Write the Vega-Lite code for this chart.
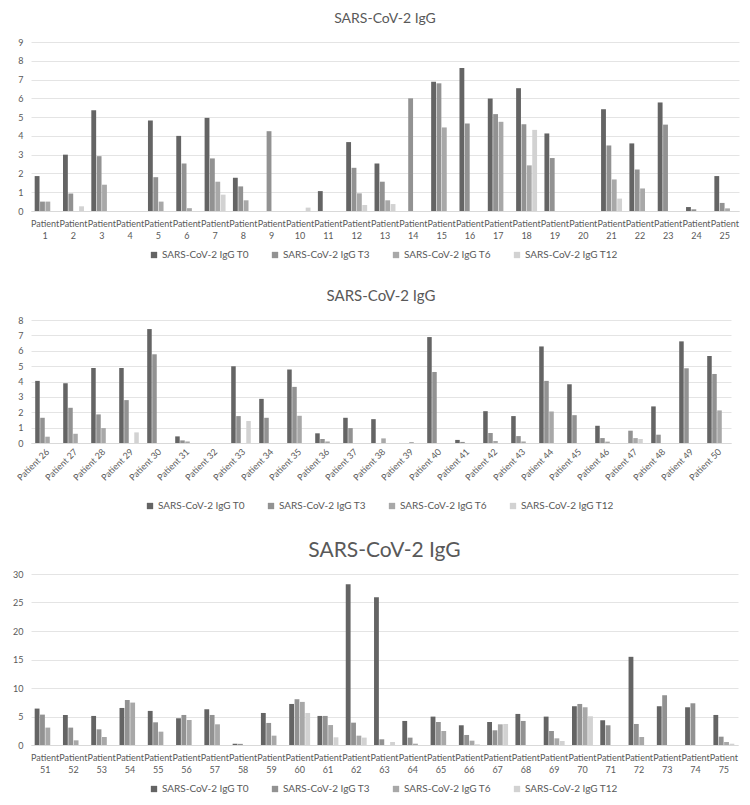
{
  "$schema": "https://vega.github.io/schema/vega-lite/v6.json",
  "background": "white",
  "padding": {"top": 12, "left": 12, "right": 8, "bottom": 2},
  "datasets": {
    "igg": [
      {"g":1,"p":"Patient 1","s":"SARS-CoV-2  IgG T0","v":1.86},
      {"g":1,"p":"Patient 1","s":"SARS-CoV-2  IgG T3","v":0.5},
      {"g":1,"p":"Patient 1","s":"SARS-CoV-2  IgG T6","v":0.5},
      {"g":1,"p":"Patient 2","s":"SARS-CoV-2  IgG T0","v":3.0},
      {"g":1,"p":"Patient 2","s":"SARS-CoV-2  IgG T3","v":0.93},
      {"g":1,"p":"Patient 2","s":"SARS-CoV-2  IgG T12","v":0.25},
      {"g":1,"p":"Patient 3","s":"SARS-CoV-2  IgG T0","v":5.37},
      {"g":1,"p":"Patient 3","s":"SARS-CoV-2  IgG T3","v":2.92},
      {"g":1,"p":"Patient 3","s":"SARS-CoV-2  IgG T6","v":1.4},
      {"g":1,"p":"Patient 4","s":"SARS-CoV-2  IgG T0","v":0},
      {"g":1,"p":"Patient 5","s":"SARS-CoV-2  IgG T0","v":4.82},
      {"g":1,"p":"Patient 5","s":"SARS-CoV-2  IgG T3","v":1.8},
      {"g":1,"p":"Patient 5","s":"SARS-CoV-2  IgG T6","v":0.5},
      {"g":1,"p":"Patient 6","s":"SARS-CoV-2  IgG T0","v":4.0},
      {"g":1,"p":"Patient 6","s":"SARS-CoV-2  IgG T3","v":2.53},
      {"g":1,"p":"Patient 6","s":"SARS-CoV-2  IgG T6","v":0.15},
      {"g":1,"p":"Patient 7","s":"SARS-CoV-2  IgG T0","v":4.96},
      {"g":1,"p":"Patient 7","s":"SARS-CoV-2  IgG T3","v":2.8},
      {"g":1,"p":"Patient 7","s":"SARS-CoV-2  IgG T6","v":1.56},
      {"g":1,"p":"Patient 7","s":"SARS-CoV-2  IgG T12","v":0.87},
      {"g":1,"p":"Patient 8","s":"SARS-CoV-2  IgG T0","v":1.77},
      {"g":1,"p":"Patient 8","s":"SARS-CoV-2  IgG T3","v":1.31},
      {"g":1,"p":"Patient 8","s":"SARS-CoV-2  IgG T6","v":0.57},
      {"g":1,"p":"Patient 9","s":"SARS-CoV-2  IgG T3","v":4.25},
      {"g":1,"p":"Patient 10","s":"SARS-CoV-2  IgG T12","v":0.18},
      {"g":1,"p":"Patient 11","s":"SARS-CoV-2  IgG T0","v":1.06},
      {"g":1,"p":"Patient 12","s":"SARS-CoV-2  IgG T0","v":3.67},
      {"g":1,"p":"Patient 12","s":"SARS-CoV-2  IgG T3","v":2.3},
      {"g":1,"p":"Patient 12","s":"SARS-CoV-2  IgG T6","v":0.94},
      {"g":1,"p":"Patient 12","s":"SARS-CoV-2  IgG T12","v":0.32},
      {"g":1,"p":"Patient 13","s":"SARS-CoV-2  IgG T0","v":2.53},
      {"g":1,"p":"Patient 13","s":"SARS-CoV-2  IgG T3","v":1.56},
      {"g":1,"p":"Patient 13","s":"SARS-CoV-2  IgG T6","v":0.57},
      {"g":1,"p":"Patient 13","s":"SARS-CoV-2  IgG T12","v":0.37},
      {"g":1,"p":"Patient 14","s":"SARS-CoV-2  IgG T3","v":6.0},
      {"g":1,"p":"Patient 15","s":"SARS-CoV-2  IgG T0","v":6.88},
      {"g":1,"p":"Patient 15","s":"SARS-CoV-2  IgG T3","v":6.8},
      {"g":1,"p":"Patient 15","s":"SARS-CoV-2  IgG T6","v":4.45},
      {"g":1,"p":"Patient 16","s":"SARS-CoV-2  IgG T0","v":7.62},
      {"g":1,"p":"Patient 16","s":"SARS-CoV-2  IgG T3","v":4.66},
      {"g":1,"p":"Patient 17","s":"SARS-CoV-2  IgG T0","v":5.99},
      {"g":1,"p":"Patient 17","s":"SARS-CoV-2  IgG T3","v":5.16},
      {"g":1,"p":"Patient 17","s":"SARS-CoV-2  IgG T6","v":4.75},
      {"g":1,"p":"Patient 18","s":"SARS-CoV-2  IgG T0","v":6.54},
      {"g":1,"p":"Patient 18","s":"SARS-CoV-2  IgG T3","v":4.62},
      {"g":1,"p":"Patient 18","s":"SARS-CoV-2  IgG T6","v":2.43},
      {"g":1,"p":"Patient 18","s":"SARS-CoV-2  IgG T12","v":4.32},
      {"g":1,"p":"Patient 19","s":"SARS-CoV-2  IgG T0","v":4.13},
      {"g":1,"p":"Patient 19","s":"SARS-CoV-2  IgG T3","v":2.82},
      {"g":1,"p":"Patient 20","s":"SARS-CoV-2  IgG T0","v":0},
      {"g":1,"p":"Patient 21","s":"SARS-CoV-2  IgG T0","v":5.42},
      {"g":1,"p":"Patient 21","s":"SARS-CoV-2  IgG T3","v":3.49},
      {"g":1,"p":"Patient 21","s":"SARS-CoV-2  IgG T6","v":1.68},
      {"g":1,"p":"Patient 21","s":"SARS-CoV-2  IgG T12","v":0.66},
      {"g":1,"p":"Patient 22","s":"SARS-CoV-2  IgG T0","v":3.6},
      {"g":1,"p":"Patient 22","s":"SARS-CoV-2  IgG T3","v":2.21},
      {"g":1,"p":"Patient 22","s":"SARS-CoV-2  IgG T6","v":1.2},
      {"g":1,"p":"Patient 23","s":"SARS-CoV-2  IgG T0","v":5.78},
      {"g":1,"p":"Patient 23","s":"SARS-CoV-2  IgG T3","v":4.6},
      {"g":1,"p":"Patient 24","s":"SARS-CoV-2  IgG T0","v":0.21},
      {"g":1,"p":"Patient 24","s":"SARS-CoV-2  IgG T3","v":0.09},
      {"g":1,"p":"Patient 25","s":"SARS-CoV-2  IgG T0","v":1.86},
      {"g":1,"p":"Patient 25","s":"SARS-CoV-2  IgG T3","v":0.43},
      {"g":1,"p":"Patient 25","s":"SARS-CoV-2  IgG T6","v":0.14},

      {"g":2,"p":"Patient 26","s":"SARS-CoV-2  IgG T0","v":4.04},
      {"g":2,"p":"Patient 26","s":"SARS-CoV-2  IgG T3","v":1.64},
      {"g":2,"p":"Patient 26","s":"SARS-CoV-2  IgG T6","v":0.41},
      {"g":2,"p":"Patient 27","s":"SARS-CoV-2  IgG T0","v":3.89},
      {"g":2,"p":"Patient 27","s":"SARS-CoV-2  IgG T3","v":2.29},
      {"g":2,"p":"Patient 27","s":"SARS-CoV-2  IgG T6","v":0.6},
      {"g":2,"p":"Patient 28","s":"SARS-CoV-2  IgG T0","v":4.88},
      {"g":2,"p":"Patient 28","s":"SARS-CoV-2  IgG T3","v":1.86},
      {"g":2,"p":"Patient 28","s":"SARS-CoV-2  IgG T6","v":0.97},
      {"g":2,"p":"Patient 29","s":"SARS-CoV-2  IgG T0","v":4.88},
      {"g":2,"p":"Patient 29","s":"SARS-CoV-2  IgG T3","v":2.79},
      {"g":2,"p":"Patient 29","s":"SARS-CoV-2  IgG T12","v":0.69},
      {"g":2,"p":"Patient 30","s":"SARS-CoV-2  IgG T0","v":7.41},
      {"g":2,"p":"Patient 30","s":"SARS-CoV-2  IgG T3","v":5.77},
      {"g":2,"p":"Patient 31","s":"SARS-CoV-2  IgG T0","v":0.43},
      {"g":2,"p":"Patient 31","s":"SARS-CoV-2  IgG T3","v":0.17},
      {"g":2,"p":"Patient 31","s":"SARS-CoV-2  IgG T6","v":0.1},
      {"g":2,"p":"Patient 32","s":"SARS-CoV-2  IgG T0","v":0},
      {"g":2,"p":"Patient 33","s":"SARS-CoV-2  IgG T0","v":4.99},
      {"g":2,"p":"Patient 33","s":"SARS-CoV-2  IgG T3","v":1.75},
      {"g":2,"p":"Patient 33","s":"SARS-CoV-2  IgG T12","v":1.43},
      {"g":2,"p":"Patient 34","s":"SARS-CoV-2  IgG T0","v":2.87},
      {"g":2,"p":"Patient 34","s":"SARS-CoV-2  IgG T3","v":1.64},
      {"g":2,"p":"Patient 35","s":"SARS-CoV-2  IgG T0","v":4.78},
      {"g":2,"p":"Patient 35","s":"SARS-CoV-2  IgG T3","v":3.65},
      {"g":2,"p":"Patient 35","s":"SARS-CoV-2  IgG T6","v":1.77},
      {"g":2,"p":"Patient 36","s":"SARS-CoV-2  IgG T0","v":0.63},
      {"g":2,"p":"Patient 36","s":"SARS-CoV-2  IgG T3","v":0.26},
      {"g":2,"p":"Patient 36","s":"SARS-CoV-2  IgG T6","v":0.1},
      {"g":2,"p":"Patient 37","s":"SARS-CoV-2  IgG T0","v":1.64},
      {"g":2,"p":"Patient 37","s":"SARS-CoV-2  IgG T3","v":0.97},
      {"g":2,"p":"Patient 38","s":"SARS-CoV-2  IgG T0","v":1.55},
      {"g":2,"p":"Patient 38","s":"SARS-CoV-2  IgG T6","v":0.3},
      {"g":2,"p":"Patient 39","s":"SARS-CoV-2  IgG T6","v":0.06},
      {"g":2,"p":"Patient 40","s":"SARS-CoV-2  IgG T0","v":6.89},
      {"g":2,"p":"Patient 40","s":"SARS-CoV-2  IgG T3","v":4.62},
      {"g":2,"p":"Patient 41","s":"SARS-CoV-2  IgG T0","v":0.2},
      {"g":2,"p":"Patient 41","s":"SARS-CoV-2  IgG T3","v":0.07},
      {"g":2,"p":"Patient 42","s":"SARS-CoV-2  IgG T0","v":2.07},
      {"g":2,"p":"Patient 42","s":"SARS-CoV-2  IgG T3","v":0.65},
      {"g":2,"p":"Patient 42","s":"SARS-CoV-2  IgG T6","v":0.13},
      {"g":2,"p":"Patient 43","s":"SARS-CoV-2  IgG T0","v":1.75},
      {"g":2,"p":"Patient 43","s":"SARS-CoV-2  IgG T3","v":0.45},
      {"g":2,"p":"Patient 43","s":"SARS-CoV-2  IgG T6","v":0.1},
      {"g":2,"p":"Patient 44","s":"SARS-CoV-2  IgG T0","v":6.28},
      {"g":2,"p":"Patient 44","s":"SARS-CoV-2  IgG T3","v":4.04},
      {"g":2,"p":"Patient 44","s":"SARS-CoV-2  IgG T6","v":2.05},
      {"g":2,"p":"Patient 45","s":"SARS-CoV-2  IgG T0","v":3.82},
      {"g":2,"p":"Patient 45","s":"SARS-CoV-2  IgG T3","v":1.81},
      {"g":2,"p":"Patient 46","s":"SARS-CoV-2  IgG T0","v":1.12},
      {"g":2,"p":"Patient 46","s":"SARS-CoV-2  IgG T3","v":0.32},
      {"g":2,"p":"Patient 46","s":"SARS-CoV-2  IgG T6","v":0.09},
      {"g":2,"p":"Patient 47","s":"SARS-CoV-2  IgG T3","v":0.8},
      {"g":2,"p":"Patient 47","s":"SARS-CoV-2  IgG T6","v":0.32},
      {"g":2,"p":"Patient 47","s":"SARS-CoV-2  IgG T12","v":0.26},
      {"g":2,"p":"Patient 48","s":"SARS-CoV-2  IgG T0","v":2.38},
      {"g":2,"p":"Patient 48","s":"SARS-CoV-2  IgG T3","v":0.54},
      {"g":2,"p":"Patient 49","s":"SARS-CoV-2  IgG T0","v":6.61},
      {"g":2,"p":"Patient 49","s":"SARS-CoV-2  IgG T3","v":4.86},
      {"g":2,"p":"Patient 50","s":"SARS-CoV-2  IgG T0","v":5.66},
      {"g":2,"p":"Patient 50","s":"SARS-CoV-2  IgG T3","v":4.49},
      {"g":2,"p":"Patient 50","s":"SARS-CoV-2  IgG T6","v":2.12},

      {"g":3,"p":"Patient 51","s":"SARS-CoV-2  IgG T0","v":6.39},
      {"g":3,"p":"Patient 51","s":"SARS-CoV-2  IgG T3","v":5.33},
      {"g":3,"p":"Patient 51","s":"SARS-CoV-2  IgG T6","v":3.05},
      {"g":3,"p":"Patient 52","s":"SARS-CoV-2  IgG T0","v":5.27},
      {"g":3,"p":"Patient 52","s":"SARS-CoV-2  IgG T3","v":3.05},
      {"g":3,"p":"Patient 52","s":"SARS-CoV-2  IgG T6","v":0.82},
      {"g":3,"p":"Patient 53","s":"SARS-CoV-2  IgG T0","v":5.1},
      {"g":3,"p":"Patient 53","s":"SARS-CoV-2  IgG T3","v":2.75},
      {"g":3,"p":"Patient 53","s":"SARS-CoV-2  IgG T6","v":1.4},
      {"g":3,"p":"Patient 54","s":"SARS-CoV-2  IgG T0","v":6.5},
      {"g":3,"p":"Patient 54","s":"SARS-CoV-2  IgG T3","v":7.9},
      {"g":3,"p":"Patient 54","s":"SARS-CoV-2  IgG T6","v":7.44},
      {"g":3,"p":"Patient 55","s":"SARS-CoV-2  IgG T0","v":5.98},
      {"g":3,"p":"Patient 55","s":"SARS-CoV-2  IgG T3","v":3.98},
      {"g":3,"p":"Patient 55","s":"SARS-CoV-2  IgG T6","v":2.34},
      {"g":3,"p":"Patient 56","s":"SARS-CoV-2  IgG T0","v":4.69},
      {"g":3,"p":"Patient 56","s":"SARS-CoV-2  IgG T3","v":5.27},
      {"g":3,"p":"Patient 56","s":"SARS-CoV-2  IgG T6","v":4.39},
      {"g":3,"p":"Patient 57","s":"SARS-CoV-2  IgG T0","v":6.27},
      {"g":3,"p":"Patient 57","s":"SARS-CoV-2  IgG T3","v":5.27},
      {"g":3,"p":"Patient 57","s":"SARS-CoV-2  IgG T6","v":3.63},
      {"g":3,"p":"Patient 58","s":"SARS-CoV-2  IgG T0","v":0.22},
      {"g":3,"p":"Patient 58","s":"SARS-CoV-2  IgG T3","v":0.2},
      {"g":3,"p":"Patient 59","s":"SARS-CoV-2  IgG T0","v":5.62},
      {"g":3,"p":"Patient 59","s":"SARS-CoV-2  IgG T3","v":3.87},
      {"g":3,"p":"Patient 59","s":"SARS-CoV-2  IgG T6","v":1.64},
      {"g":3,"p":"Patient 60","s":"SARS-CoV-2  IgG T0","v":7.2},
      {"g":3,"p":"Patient 60","s":"SARS-CoV-2  IgG T3","v":8.03},
      {"g":3,"p":"Patient 60","s":"SARS-CoV-2  IgG T6","v":7.56},
      {"g":3,"p":"Patient 60","s":"SARS-CoV-2  IgG T12","v":5.62},
      {"g":3,"p":"Patient 61","s":"SARS-CoV-2  IgG T0","v":5.1},
      {"g":3,"p":"Patient 61","s":"SARS-CoV-2  IgG T3","v":5.1},
      {"g":3,"p":"Patient 61","s":"SARS-CoV-2  IgG T6","v":3.5},
      {"g":3,"p":"Patient 61","s":"SARS-CoV-2  IgG T12","v":1.35},
      {"g":3,"p":"Patient 62","s":"SARS-CoV-2  IgG T0","v":28.2},
      {"g":3,"p":"Patient 62","s":"SARS-CoV-2  IgG T3","v":3.92},
      {"g":3,"p":"Patient 62","s":"SARS-CoV-2  IgG T6","v":1.64},
      {"g":3,"p":"Patient 62","s":"SARS-CoV-2  IgG T12","v":1.3},
      {"g":3,"p":"Patient 63","s":"SARS-CoV-2  IgG T0","v":25.9},
      {"g":3,"p":"Patient 63","s":"SARS-CoV-2  IgG T3","v":1.0},
      {"g":3,"p":"Patient 63","s":"SARS-CoV-2  IgG T12","v":0.53},
      {"g":3,"p":"Patient 64","s":"SARS-CoV-2  IgG T0","v":4.22},
      {"g":3,"p":"Patient 64","s":"SARS-CoV-2  IgG T3","v":1.29},
      {"g":3,"p":"Patient 64","s":"SARS-CoV-2  IgG T6","v":0.23},
      {"g":3,"p":"Patient 65","s":"SARS-CoV-2  IgG T0","v":4.98},
      {"g":3,"p":"Patient 65","s":"SARS-CoV-2  IgG T3","v":4.04},
      {"g":3,"p":"Patient 65","s":"SARS-CoV-2  IgG T6","v":2.46},
      {"g":3,"p":"Patient 66","s":"SARS-CoV-2  IgG T0","v":3.46},
      {"g":3,"p":"Patient 66","s":"SARS-CoV-2  IgG T3","v":1.76},
      {"g":3,"p":"Patient 66","s":"SARS-CoV-2  IgG T6","v":0.76},
      {"g":3,"p":"Patient 66","s":"SARS-CoV-2  IgG T12","v":0.12},
      {"g":3,"p":"Patient 67","s":"SARS-CoV-2  IgG T0","v":4.04},
      {"g":3,"p":"Patient 67","s":"SARS-CoV-2  IgG T3","v":2.58},
      {"g":3,"p":"Patient 67","s":"SARS-CoV-2  IgG T6","v":3.63},
      {"g":3,"p":"Patient 67","s":"SARS-CoV-2  IgG T12","v":3.69},
      {"g":3,"p":"Patient 68","s":"SARS-CoV-2  IgG T0","v":5.45},
      {"g":3,"p":"Patient 68","s":"SARS-CoV-2  IgG T3","v":4.22},
      {"g":3,"p":"Patient 69","s":"SARS-CoV-2  IgG T0","v":4.98},
      {"g":3,"p":"Patient 69","s":"SARS-CoV-2  IgG T3","v":2.46},
      {"g":3,"p":"Patient 69","s":"SARS-CoV-2  IgG T6","v":1.17},
      {"g":3,"p":"Patient 69","s":"SARS-CoV-2  IgG T12","v":0.7},
      {"g":3,"p":"Patient 70","s":"SARS-CoV-2  IgG T0","v":6.8},
      {"g":3,"p":"Patient 70","s":"SARS-CoV-2  IgG T3","v":7.2},
      {"g":3,"p":"Patient 70","s":"SARS-CoV-2  IgG T6","v":6.62},
      {"g":3,"p":"Patient 70","s":"SARS-CoV-2  IgG T12","v":5.04},
      {"g":3,"p":"Patient 71","s":"SARS-CoV-2  IgG T0","v":4.34},
      {"g":3,"p":"Patient 71","s":"SARS-CoV-2  IgG T3","v":3.46},
      {"g":3,"p":"Patient 72","s":"SARS-CoV-2  IgG T0","v":15.47},
      {"g":3,"p":"Patient 72","s":"SARS-CoV-2  IgG T3","v":3.69},
      {"g":3,"p":"Patient 72","s":"SARS-CoV-2  IgG T6","v":1.4},
      {"g":3,"p":"Patient 73","s":"SARS-CoV-2  IgG T0","v":6.8},
      {"g":3,"p":"Patient 73","s":"SARS-CoV-2  IgG T3","v":8.73},
      {"g":3,"p":"Patient 74","s":"SARS-CoV-2  IgG T0","v":6.62},
      {"g":3,"p":"Patient 74","s":"SARS-CoV-2  IgG T3","v":7.32},
      {"g":3,"p":"Patient 75","s":"SARS-CoV-2  IgG T0","v":5.27},
      {"g":3,"p":"Patient 75","s":"SARS-CoV-2  IgG T3","v":1.46},
      {"g":3,"p":"Patient 75","s":"SARS-CoV-2  IgG T6","v":0.53},
      {"g":3,"p":"Patient 75","s":"SARS-CoV-2  IgG T12","v":0.23}
    ]
  },
  "data": {"name": "igg"},
  "spacing": 29,
  "vconcat": [
    {
      "title": {"text": "SARS-CoV-2 IgG", "fontSize": 14, "offset": 12},
      "width": 708,
      "height": 169,
      "transform": [{"filter": "datum.g == 1"}],
      "mark": {"type": "bar"},
      "encoding": {
        "x": {"field": "p", "type": "nominal", "sort": null,
              "scale": {"paddingInner": 0.26, "paddingOuter": 0.13},
              "axis": {"title": null, "labelAngle": 0, "labelExpr": "split(datum.value, ' ')", "labelLineHeight": 12, "labelPadding": 8}},
        "xOffset": {"field": "s", "type": "nominal",
                    "scale": {"domain": ["SARS-CoV-2  IgG T0", "SARS-CoV-2  IgG T3", "SARS-CoV-2  IgG T6", "SARS-CoV-2  IgG T12"], "paddingInner": 0.1}},
        "y": {"field": "v", "type": "quantitative",
              "scale": {"domain": [0, 9], "nice": false},
              "axis": {"title": null, "values": [0,1,2,3,4,5,6,7,8,9]}},
        "color": {"field": "s", "type": "nominal",
                  "scale": {"domain": ["SARS-CoV-2  IgG T0", "SARS-CoV-2  IgG T3", "SARS-CoV-2  IgG T6", "SARS-CoV-2  IgG T12"],
                            "range": ["#646464", "#929292", "#a8a8a8", "#d2d2d2"]},
                  "legend": {"title": null, "orient": "bottom", "direction": "horizontal", "offset": 10}}
      }
    },
    {
      "title": {"text": "SARS-CoV-2 IgG", "fontSize": 15, "offset": 12},
      "width": 700,
      "height": 123,
      "transform": [{"filter": "datum.g == 2"}],
      "mark": {"type": "bar"},
      "encoding": {
        "x": {"field": "p", "type": "nominal", "sort": null,
              "scale": {"paddingInner": 0.3, "paddingOuter": 0.15},
              "axis": {"title": null, "labelAngle": -45, "labelAlign": "right", "labelBaseline": "top", "labelPadding": 4}},
        "xOffset": {"field": "s", "type": "nominal",
                    "scale": {"domain": ["SARS-CoV-2  IgG T0", "SARS-CoV-2  IgG T3", "SARS-CoV-2  IgG T6", "SARS-CoV-2  IgG T12"], "paddingInner": 0.1}},
        "y": {"field": "v", "type": "quantitative",
              "scale": {"domain": [0, 8], "nice": false},
              "axis": {"title": null, "values": [0,1,2,3,4,5,6,7,8]}},
        "color": {"field": "s", "type": "nominal",
                  "scale": {"domain": ["SARS-CoV-2  IgG T0", "SARS-CoV-2  IgG T3", "SARS-CoV-2  IgG T6", "SARS-CoV-2  IgG T12"],
                            "range": ["#646464", "#929292", "#a8a8a8", "#d2d2d2"]},
                  "legend": {"title": null, "orient": "bottom", "direction": "horizontal", "offset": 18}}
      }
    },
    {
      "title": {"text": "SARS-CoV-2 IgG", "fontSize": 21, "offset": 9},
      "width": 707,
      "height": 171,
      "transform": [{"filter": "datum.g == 3"}],
      "mark": {"type": "bar"},
      "encoding": {
        "x": {"field": "p", "type": "nominal", "sort": null,
              "scale": {"paddingInner": 0.26, "paddingOuter": 0.13},
              "axis": {"title": null, "labelAngle": 0, "labelExpr": "split(datum.value, ' ')", "labelLineHeight": 12, "labelPadding": 8}},
        "xOffset": {"field": "s", "type": "nominal",
                    "scale": {"domain": ["SARS-CoV-2  IgG T0", "SARS-CoV-2  IgG T3", "SARS-CoV-2  IgG T6", "SARS-CoV-2  IgG T12"], "paddingInner": 0.1}},
        "y": {"field": "v", "type": "quantitative",
              "scale": {"domain": [0, 30], "nice": false},
              "axis": {"title": null, "values": [0,5,10,15,20,25,30]}},
        "color": {"field": "s", "type": "nominal",
                  "scale": {"domain": ["SARS-CoV-2  IgG T0", "SARS-CoV-2  IgG T3", "SARS-CoV-2  IgG T6", "SARS-CoV-2  IgG T12"],
                            "range": ["#646464", "#929292", "#a8a8a8", "#d2d2d2"]},
                  "legend": {"title": null, "orient": "bottom", "direction": "horizontal", "offset": 10}}
      }
    }
  ],
  "resolve": {"scale": {"x": "independent", "y": "independent", "xOffset": "independent"}, "legend": {"color": "independent"}},
  "config": {
    "font": "Lato",
    "view": {"stroke": null},
    "axis": {"labelColor": "#595959", "labelFontSize": 9, "ticks": false, "domainColor": "#d9d9d9", "gridColor": "#e4e4e4", "labelFont": "Lato"},
    "axisY": {"domain": false, "grid": true, "labelPadding": 8},
    "axisX": {"grid": false},
    "legend": {"labelColor": "#595959", "labelFontSize": 10, "labelFont": "Lato", "symbolType": "square", "symbolSize": 40, "symbolStrokeWidth": 0, "columnPadding": 18, "labelOffset": 3,
               "layout": {"bottom": {"anchor": "middle"}}},
    "title": {"color": "#595959", "fontWeight": "normal", "anchor": "middle", "font": "Lato"}
  }
}
